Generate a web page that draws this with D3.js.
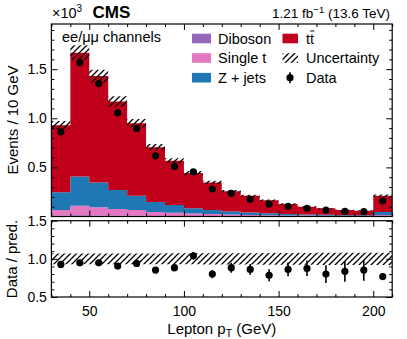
<!DOCTYPE html>
<html>
<head>
<meta charset="utf-8">
<script src="https://cdn.jsdelivr.net/npm/d3@7"></script>
<style>
body { margin: 0; background: #fff; }
text { font-family: "Liberation Sans", Arial, sans-serif; fill: #000; }
</style>
</head>
<body>
<div id="vis"></div>
<script>
// bin edges in GeV (last bin holds the overflow)
var binEdges = [30, 40, 50, 60, 70, 80, 90, 100, 110, 120, 130, 140, 150, 160, 170, 180, 190, 200, 210];

// predicted yields, x10^3 events / 10 GeV
var dibosonValues   = [0.008, 0.012, 0.011, 0.009, 0.008, 0.006, 0.005, 0.004, 0.003, 0.003, 0.002, 0.002, 0.002, 0.001, 0.001, 0.001, 0.001, 0.003];
var singleTopValues = [0.058, 0.098, 0.082, 0.067, 0.058, 0.039, 0.033, 0.026, 0.022, 0.017, 0.014, 0.011, 0.009, 0.008, 0.006, 0.005, 0.004, 0.013];
var zJetsValues     = [0.180, 0.298, 0.254, 0.193, 0.145, 0.102, 0.079, 0.053, 0.040, 0.030, 0.024, 0.019, 0.015, 0.012, 0.010, 0.008, 0.007, 0.029];
var ttbarValues     = [0.684, 1.260, 1.084, 0.902, 0.739, 0.559, 0.450, 0.359, 0.282, 0.206, 0.171, 0.133, 0.101, 0.079, 0.066, 0.052, 0.047, 0.166];
var predUncertainty = [0.045, 0.045, 0.045, 0.045, 0.045, 0.046, 0.046, 0.047, 0.048, 0.050, 0.050, 0.052, 0.053, 0.055, 0.056, 0.058, 0.060, 0.060];

// observed data
var dataValues = [0.862, 1.567, 1.354, 1.055, 0.896, 0.618, 0.510, 0.455, 0.280, 0.236, 0.175, 0.127, 0.104, 0.083, 0.066, 0.053, 0.050, 0.160];
var dataErrors = [0.030, 0.040, 0.037, 0.032, 0.030, 0.025, 0.023, 0.021, 0.017, 0.015, 0.013, 0.011, 0.010, 0.009, 0.008, 0.007, 0.007, 0.013];

// ratio panel
var ratioValues = [0.927, 0.948, 0.948, 0.905, 0.940, 0.853, 0.884, 1.040, 0.800, 0.884, 0.862, 0.785, 0.862, 0.875, 0.800, 0.836, 0.853, 0.768];
var ratioErrors = [0.030, 0.025, 0.027, 0.030, 0.034, 0.040, 0.045, 0.050, 0.055, 0.065, 0.070, 0.080, 0.090, 0.100, 0.115, 0.135, 0.140, 0.045];
var ratioUncertainty = [0.070, 0.070, 0.070, 0.070, 0.070, 0.070, 0.072, 0.072, 0.074, 0.074, 0.075, 0.076, 0.077, 0.078, 0.079, 0.080, 0.080, 0.080];

// ticks
var xTicks = [50, 100, 150, 200];
var yTicks = [0.5, 1.0, 1.5];
var ratioTicks = [0.5, 1.0, 1.5];

var processKeys = ['diboson', 'singleTop', 'zJets', 'ttbar'];
var processColors = ['#9467bd', '#e377c2', '#1f77b4', '#c1001c'];


class ControlPlot
{
    constructor(width, height)
    {
        this.width = width;
        this.height = height;

        // frame of both panels
        this.frame = {
            left: 51.4,
            right: 392.2,
            top: 24,
            upperBottom: 216.5,
            lowerTop: 220.7,
            bottom: 297
        };

        this.svg = d3.select('#vis')
            .append('svg')
                .attr('width', this.width)
                .attr('height', this.height);

        this.x = d3.scaleLinear().domain([30, 210]).range([this.frame.left, this.frame.right]);
        this.y = d3.scaleLinear().domain([0, 1.96]).range([this.frame.upperBottom, this.frame.top]);
        this.yRatio = d3.scaleLinear().domain([0.5, 1.5]).range([this.frame.bottom, this.frame.lowerTop]);

        var defs = this.svg.append('defs');
        defs.append('pattern')
            .attr('id', 'hatch')
            .attr('patternUnits', 'userSpaceOnUse')
            .attr('width', 6)
            .attr('height', 6)
          .append('path')
            .attr('d', 'M-1,1 l2,-2 M0,6 l6,-6 M5,7 l2,-2')
            .attr('stroke', '#000')
            .attr('stroke-width', 1.3);
        defs.append('clipPath').attr('id', 'clipUpper')
          .append('rect')
            .attr('x', this.frame.left).attr('y', this.frame.top)
            .attr('width', this.frame.right - this.frame.left)
            .attr('height', this.frame.upperBottom - this.frame.top);
        defs.append('clipPath').attr('id', 'clipLower')
          .append('rect')
            .attr('x', this.frame.left).attr('y', this.frame.lowerTop)
            .attr('width', this.frame.right - this.frame.left)
            .attr('height', this.frame.bottom - this.frame.lowerTop);
    }

    // Helper methods
    stepArea(lower, upper, yScale)
    {
        var x = this.x;
        var n = lower.length;
        var pts = lower.map(function(d, i) { return { e: binEdges[i], y0: lower[i], y1: upper[i] }; });
        pts.push({ e: binEdges[n], y0: lower[n - 1], y1: upper[n - 1] });
        return d3.area()
            .curve(d3.curveStepAfter)
            .x(function(d) { return x(d.e); })
            .y0(function(d) { return yScale(d.y0); })
            .y1(function(d) { return yScale(d.y1); })(pts);
    }

    binCenter(i)
    {
        return this.x((binEdges[i] + binEdges[i + 1]) / 2);
    }

    drawTicks(yScale, yTop, yBottom, majorY, minorY, labelsX, yFormat)
    {
        var f = this.frame;
        var minorX = d3.range(30, 211, 10).filter(function(v) { return v % 50 !== 0; });
        var g = this.svg.append('g').attr('class', 'ticks');

        var put = function(axis, tx, ty)
        {
            var a = g.append('g').attr('transform', 'translate(' + tx + ',' + ty + ')').call(axis);
            a.select('.domain').remove();
            a.selectAll('line').attr('stroke', '#000').attr('stroke-width', 1);
            return a;
        };

        // bottom
        var xb = put(d3.axisBottom(this.x).tickValues(xTicks).tickSizeInner(-6).tickSizeOuter(0).tickPadding(9)
            .tickFormat(labelsX ? d3.format('d') : ''), 0, yBottom);
        xb.selectAll('text').attr('font-size', 14).attr('font-family', '"Liberation Sans", Arial, sans-serif');
        put(d3.axisBottom(this.x).tickValues(minorX).tickSizeInner(-3).tickSizeOuter(0).tickFormat(''), 0, yBottom);
        // top
        put(d3.axisTop(this.x).tickValues(xTicks).tickSizeInner(-6).tickSizeOuter(0).tickFormat(''), 0, yTop);
        put(d3.axisTop(this.x).tickValues(minorX).tickSizeInner(-3).tickSizeOuter(0).tickFormat(''), 0, yTop);
        // left
        var yl = put(d3.axisLeft(yScale).tickValues(majorY).tickSizeInner(-6).tickSizeOuter(0).tickPadding(4.5)
            .tickFormat(yFormat), f.left, 0);
        yl.selectAll('text').attr('font-size', 14).attr('font-family', '"Liberation Sans", Arial, sans-serif');
        put(d3.axisLeft(yScale).tickValues(minorY).tickSizeInner(-3).tickSizeOuter(0).tickFormat(''), f.left, 0);
        // right
        put(d3.axisRight(yScale).tickValues(majorY).tickSizeInner(-6).tickSizeOuter(0).tickFormat(''), f.right, 0);
        put(d3.axisRight(yScale).tickValues(minorY).tickSizeInner(-3).tickSizeOuter(0).tickFormat(''), f.right, 0);

        // frame
        g.append('rect')
            .attr('x', f.left).attr('y', yTop)
            .attr('width', f.right - f.left).attr('height', yBottom - yTop)
            .attr('fill', 'none').attr('stroke', '#000').attr('stroke-width', 1.2);
    }

    // Main methods
    drawUpper()
    {
        var that = this;
        var rows = dibosonValues.map(function(d, i) {
            return {
                diboson: dibosonValues[i],
                singleTop: singleTopValues[i],
                zJets: zJetsValues[i],
                ttbar: ttbarValues[i]
            };
        });
        var series = d3.stack().keys(processKeys)(rows);
        var totals = series[series.length - 1].map(function(d) { return d[1]; });

        var panel = this.svg.append('g').attr('clip-path', 'url(#clipUpper)');

        panel.selectAll('.stack')
            .data(series)
            .enter()
            .append('path')
            .attr('class', 'stack')
            .attr('fill', function(d, i) { return processColors[i]; })
            .attr('d', function(s) {
                return that.stepArea(s.map(function(d) { return d[0]; }), s.map(function(d) { return d[1]; }), that.y);
            });

        panel.append('path')
            .attr('fill', 'url(#hatch)')
            .attr('d', this.stepArea(
                totals.map(function(t, i) { return t * (1 - predUncertainty[i]); }),
                totals.map(function(t, i) { return t * (1 + predUncertainty[i]); }),
                this.y));

        this.drawPoints(panel, dataValues, dataErrors, this.y);

        this.drawTicks(this.y, this.frame.top, this.frame.upperBottom, yTicks,
            d3.range(0.1, 1.95, 0.1).filter(function(v) { return Math.abs(v * 2 - Math.round(v * 2)) > 1e-6; }),
            false, d3.format('.1f'));
    }

    drawLower()
    {
        var panel = this.svg.append('g').attr('clip-path', 'url(#clipLower)');

        panel.append('path')
            .attr('fill', 'url(#hatch)')
            .attr('d', this.stepArea(
                ratioUncertainty.map(function(u) { return 1 - u; }),
                ratioUncertainty.map(function(u) { return 1 + u; }),
                this.yRatio));

        this.drawPoints(panel, ratioValues, ratioErrors, this.yRatio);

        this.drawTicks(this.yRatio, this.frame.lowerTop, this.frame.bottom, ratioTicks,
            [0.6, 0.7, 0.8, 0.9, 1.1, 1.2, 1.3, 1.4], true, d3.format('.1f'));
    }

    drawPoints(panel, values, errors, yScale)
    {
        var that = this;
        panel.selectAll(null)
            .data(values)
            .enter()
            .append('line')
            .attr('x1', function(d, i) { return that.binCenter(i); })
            .attr('x2', function(d, i) { return that.binCenter(i); })
            .attr('y1', function(d, i) { return yScale(d - errors[i]); })
            .attr('y2', function(d, i) { return yScale(d + errors[i]); })
            .attr('stroke', '#000')
            .attr('stroke-width', 1.6);
        panel.selectAll(null)
            .data(values)
            .enter()
            .append('circle')
            .attr('cx', function(d, i) { return that.binCenter(i); })
            .attr('cy', function(d) { return yScale(d); })
            .attr('r', 3.6)
            .attr('fill', '#000');
    }

    drawLabels()
    {
        var svg = this.svg;
        var f = this.frame;

        // header
        var exp = svg.append('text').attr('x', 52).attr('y', 18).attr('font-size', 14.5);
        exp.append('tspan').text('\u00d710');
        exp.append('tspan').attr('font-size', 10).attr('dy', -6).text('3');
        svg.append('text').attr('x', 92.5).attr('y', 18).attr('font-size', 17).attr('font-weight', 'bold').text('CMS');
        var lumi = svg.append('text').attr('x', 390).attr('y', 18).attr('font-size', 13.5).attr('text-anchor', 'end');
        lumi.append('tspan').text('1.21 fb');
        lumi.append('tspan').attr('font-size', 9.5).attr('dy', -5.5).text('\u22121');
        lumi.append('tspan').attr('dy', 5.5).text(' (13.6 TeV)');

        svg.append('text').attr('x', 62).attr('y', 42).attr('font-size', 14.5).text('ee/\u03bc\u03bc channels');

        // axis titles
        svg.append('text')
            .attr('transform', 'translate(18,120) rotate(-90)')
            .attr('text-anchor', 'middle')
            .attr('font-size', 15)
            .text('Events / 10 GeV');
        svg.append('text')
            .attr('transform', 'translate(17,259) rotate(-90)')
            .attr('text-anchor', 'middle')
            .attr('font-size', 15)
            .text('Data / pred.');
        var xt = svg.append('text')
            .attr('x', (f.left + f.right) / 2)
            .attr('y', 334)
            .attr('text-anchor', 'middle')
            .attr('font-size', 15);
        xt.append('tspan').text('Lepton p');
        xt.append('tspan').attr('font-size', 10.5).attr('dy', 3).text('T');
        xt.append('tspan').attr('dy', -3).text(' (GeV)');

        // legend
        var rowsY = [38.5, 58, 77.7];
        var col1 = [
            { label: 'Diboson', color: processColors[0] },
            { label: 'Single t', color: processColors[1] },
            { label: 'Z + jets', color: processColors[2] }
        ];
        col1.forEach(function(d, i) {
            svg.append('rect').attr('x', 192).attr('y', rowsY[i] - 4.8).attr('width', 19).attr('height', 9.6).attr('fill', d.color);
            svg.append('text').attr('x', 218).attr('y', rowsY[i] + 5).attr('font-size', 14.5).text(d.label);
        });

        svg.append('rect').attr('x', 282.5).attr('y', rowsY[0] - 4.8).attr('width', 15.5).attr('height', 9.6).attr('fill', processColors[3]);
        var t1 = svg.append('text').attr('x', 306).attr('y', rowsY[0] + 5).attr('font-size', 14.5).text('t');
        var tw = t1.node().getComputedTextLength();
        svg.append('text').attr('x', 306 + tw).attr('y', rowsY[0] + 5).attr('font-size', 14.5).text('t');
        svg.append('line')
            .attr('x1', 306 + tw + 0.3).attr('x2', 306 + 2 * tw + 0.3)
            .attr('y1', rowsY[0] - 7.5).attr('y2', rowsY[0] - 7.5)
            .attr('stroke', '#000').attr('stroke-width', 1);

        svg.append('rect').attr('x', 282.5).attr('y', rowsY[1] - 4.8).attr('width', 15.5).attr('height', 9.6).attr('fill', 'url(#hatch)');
        svg.append('text').attr('x', 306).attr('y', rowsY[1] + 5).attr('font-size', 14.5).text('Uncertainty');

        svg.append('line').attr('x1', 290).attr('x2', 290).attr('y1', rowsY[2] - 5.5).attr('y2', rowsY[2] + 5.5)
            .attr('stroke', '#000').attr('stroke-width', 1.6);
        svg.append('circle').attr('cx', 290).attr('cy', rowsY[2]).attr('r', 3.6).attr('fill', '#000');
        svg.append('text').attr('x', 306).attr('y', rowsY[2] + 5).attr('font-size', 14.5).text('Data');
    }

    Run()
    {
        this.drawUpper();
        this.drawLower();
        this.drawLabels();
    }
}


window.onload = function()
{
    var plot = new ControlPlot(407, 339);
    plot.Run();
}
</script>
</body>
</html>
